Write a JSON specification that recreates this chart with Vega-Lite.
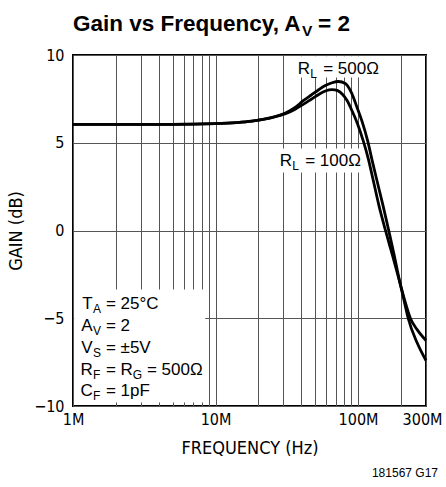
{
  "$schema": "https://vega.github.io/schema/vega-lite/v6.json",
  "width": 353,
  "height": 351,
  "autosize": {"type": "none"},
  "padding": {"left": 73, "top": 55, "right": 20, "bottom": 81},
  "background": "white",
  "config": {
    "view": {"stroke": "black", "strokeWidth": 2},
    "font": "Liberation Sans Narrow, DejaVu Sans Condensed, sans-serif",
    "axis": {
      "gridColor": "#555",
      "gridWidth": 1,
      "gridOpacity": 1,
      "domain": false,
      "ticks": false,
      "labelColor": "black",
      "titleColor": "black",
      "labelFont": "Liberation Sans Narrow, DejaVu Sans Condensed, sans-serif",
      "titleFont": "Liberation Sans Narrow, DejaVu Sans Condensed, sans-serif",
      "labelFontSize": 16,
      "titleFontSize": 18,
      "titleFontWeight": "normal"
    }
  },
  "datasets": {
    "curves": [
      {"series": "RL = 100Ω", "freq": 1, "gain": 6.05},
      {"series": "RL = 100Ω", "freq": 2, "gain": 6.05},
      {"series": "RL = 100Ω", "freq": 4, "gain": 6.05},
      {"series": "RL = 100Ω", "freq": 7, "gain": 6.06},
      {"series": "RL = 100Ω", "freq": 10, "gain": 6.09},
      {"series": "RL = 100Ω", "freq": 14, "gain": 6.15},
      {"series": "RL = 100Ω", "freq": 18, "gain": 6.23},
      {"series": "RL = 100Ω", "freq": 22, "gain": 6.34},
      {"series": "RL = 100Ω", "freq": 26, "gain": 6.47},
      {"series": "RL = 100Ω", "freq": 31, "gain": 6.66},
      {"series": "RL = 100Ω", "freq": 36, "gain": 6.9},
      {"series": "RL = 100Ω", "freq": 41.5, "gain": 7.2},
      {"series": "RL = 100Ω", "freq": 47, "gain": 7.48},
      {"series": "RL = 100Ω", "freq": 53, "gain": 7.75},
      {"series": "RL = 100Ω", "freq": 59, "gain": 7.95},
      {"series": "RL = 100Ω", "freq": 65.8, "gain": 8.03},
      {"series": "RL = 100Ω", "freq": 72, "gain": 7.97},
      {"series": "RL = 100Ω", "freq": 78, "gain": 7.75},
      {"series": "RL = 100Ω", "freq": 83.8, "gain": 7.41},
      {"series": "RL = 100Ω", "freq": 91.3, "gain": 6.78},
      {"series": "RL = 100Ω", "freq": 99, "gain": 6.1},
      {"series": "RL = 100Ω", "freq": 109, "gain": 5.09},
      {"series": "RL = 100Ω", "freq": 118, "gain": 4.1},
      {"series": "RL = 100Ω", "freq": 128, "gain": 2.85},
      {"series": "RL = 100Ω", "freq": 140, "gain": 1.45},
      {"series": "RL = 100Ω", "freq": 156, "gain": 0.0},
      {"series": "RL = 100Ω", "freq": 175, "gain": -1.45},
      {"series": "RL = 100Ω", "freq": 195, "gain": -2.85},
      {"series": "RL = 100Ω", "freq": 213, "gain": -4.0},
      {"series": "RL = 100Ω", "freq": 233, "gain": -5.0},
      {"series": "RL = 100Ω", "freq": 260, "gain": -5.65},
      {"series": "RL = 100Ω", "freq": 300, "gain": -6.27},
      {"series": "RL = 500Ω", "freq": 1, "gain": 6.05},
      {"series": "RL = 500Ω", "freq": 2, "gain": 6.05},
      {"series": "RL = 500Ω", "freq": 4, "gain": 6.05},
      {"series": "RL = 500Ω", "freq": 7, "gain": 6.06},
      {"series": "RL = 500Ω", "freq": 10, "gain": 6.09},
      {"series": "RL = 500Ω", "freq": 14, "gain": 6.15},
      {"series": "RL = 500Ω", "freq": 18, "gain": 6.23},
      {"series": "RL = 500Ω", "freq": 22, "gain": 6.34},
      {"series": "RL = 500Ω", "freq": 26, "gain": 6.48},
      {"series": "RL = 500Ω", "freq": 31, "gain": 6.7},
      {"series": "RL = 500Ω", "freq": 36, "gain": 7.0},
      {"series": "RL = 500Ω", "freq": 41.5, "gain": 7.41},
      {"series": "RL = 500Ω", "freq": 47, "gain": 7.72},
      {"series": "RL = 500Ω", "freq": 53, "gain": 8.02},
      {"series": "RL = 500Ω", "freq": 59, "gain": 8.26},
      {"series": "RL = 500Ω", "freq": 65.8, "gain": 8.42},
      {"series": "RL = 500Ω", "freq": 73, "gain": 8.49},
      {"series": "RL = 500Ω", "freq": 81.5, "gain": 8.38},
      {"series": "RL = 500Ω", "freq": 89.9, "gain": 7.86},
      {"series": "RL = 500Ω", "freq": 98.6, "gain": 7.0},
      {"series": "RL = 500Ω", "freq": 106.9, "gain": 6.2},
      {"series": "RL = 500Ω", "freq": 117, "gain": 5.09},
      {"series": "RL = 500Ω", "freq": 126, "gain": 3.95},
      {"series": "RL = 500Ω", "freq": 135.8, "gain": 2.85},
      {"series": "RL = 500Ω", "freq": 150, "gain": 1.4},
      {"series": "RL = 500Ω", "freq": 164.3, "gain": 0.0},
      {"series": "RL = 500Ω", "freq": 180, "gain": -1.45},
      {"series": "RL = 500Ω", "freq": 195.4, "gain": -2.85},
      {"series": "RL = 500Ω", "freq": 210, "gain": -3.95},
      {"series": "RL = 500Ω", "freq": 224.9, "gain": -5.0},
      {"series": "RL = 500Ω", "freq": 260, "gain": -6.4},
      {"series": "RL = 500Ω", "freq": 300, "gain": -7.41}
    ],
    "boxes": [
      {"freq": 36.3, "freq2": 143.6, "gain": 9.93, "gain2": 8.72},
      {"freq": 27.1, "freq2": 114.6, "gain": 4.67, "gain2": 3.3},
      {"freq": 1.02, "freq2": 8.47, "gain": -3.36, "gain2": -9.8}
    ],
    "notes": [
      {"freq": 38.1, "gain": 8.89, "main": "R", "sub": "L", "rest": "= 500Ω"},
      {"freq": 28.5, "gain": 3.66, "main": "R", "sub": "L", "rest": "= 100Ω"},
      {"freq": 1.138, "gain": -4.47, "main": "T", "sub": "A", "rest": "= 25°C"},
      {"freq": 1.138, "gain": -5.72, "main": "A", "sub": "V", "rest": "= 2"},
      {"freq": 1.138, "gain": -6.97, "main": "V", "sub": "S", "rest": "= ±5V"},
      {"freq": 1.138, "gain": -8.22, "main": "R", "sub": "F", "rest": "= R", "sub2": "G", "rest2": "= 500Ω"},
      {"freq": 1.138, "gain": -9.44, "main": "C", "sub": "F", "rest": "= 1pF"}
    ],
    "titleparts": [
      {"freq": 1, "gain": 11.37, "main": "Gain vs Frequency, A", "sub": "V", "rest": "= 2"}
    ],
    "footnote": [
      {"freq": 300, "gain": -14.05, "note": "181567 G17"}
    ]
  },
  "encoding": {
    "x": {
      "field": "freq",
      "type": "quantitative",
      "scale": {"type": "log", "domain": [1, 300], "nice": false},
      "axis": {
        "title": "FREQUENCY (Hz)",
        "values": [1, 2, 3, 4, 5, 6, 7, 8, 9, 10, 20, 30, 40, 50, 60, 70, 80, 90, 100, 200, 300],
        "labelExpr": "datum.value == 1 ? '1M' : datum.value == 10 ? '10M' : datum.value == 100 ? '100M' : datum.value == 300 ? '300M' : ''",
        "labelOverlap": false,
        "labelFlush": false,
        "labelPadding": 5,
        "labelOffset": {"condition": {"test": "datum.value == 300", "value": -4}, "value": 0},
        "titlePadding": 12,
        "grid": true
      }
    },
    "y": {
      "field": "gain",
      "type": "quantitative",
      "scale": {"domain": [-10, 10], "nice": false, "zero": false},
      "axis": {
        "title": "GAIN (dB)",
        "values": [-10, -5, 0, 5, 10],
        "labelPadding": 9,
        "titlePadding": 8,
        "grid": true
      }
    }
  },
  "layer": [
    {
      "data": {"name": "boxes"},
      "mark": {"type": "rect", "fill": "white", "strokeWidth": 0},
      "encoding": {"x2": {"field": "freq2"}, "y2": {"field": "gain2"}}
    },
    {
      "data": {"name": "curves"},
      "mark": {"type": "line", "interpolate": "monotone", "strokeWidth": 2.8, "color": "black"},
      "encoding": {"detail": {"field": "series", "type": "nominal"}}
    },
    {
      "data": {"name": "notes"},
      "mark": {"type": "text", "align": "right", "baseline": "alphabetic", "dx": 11.7, "font": "Liberation Sans, Arimo, sans-serif", "fontSize": 17, "color": "black"},
      "encoding": {"text": {"field": "main", "type": "nominal"}}
    },
    {
      "data": {"name": "notes"},
      "mark": {"type": "text", "align": "left", "baseline": "alphabetic", "dx": 12, "dy": 4, "font": "Liberation Sans, Arimo, sans-serif", "fontSize": 12, "color": "black"},
      "encoding": {"text": {"field": "sub", "type": "nominal"}}
    },
    {
      "data": {"name": "notes"},
      "mark": {"type": "text", "align": "left", "baseline": "alphabetic", "dx": 24.9, "font": "Liberation Sans, Arimo, sans-serif", "fontSize": 17, "color": "black"},
      "encoding": {"text": {"field": "rest", "type": "nominal"}}
    },
    {
      "data": {"name": "notes"},
      "transform": [{"filter": "datum.sub2"}],
      "mark": {"type": "text", "align": "left", "baseline": "alphabetic", "dx": 51.8, "dy": 4, "font": "Liberation Sans, Arimo, sans-serif", "fontSize": 12, "color": "black"},
      "encoding": {"text": {"field": "sub2", "type": "nominal"}}
    },
    {
      "data": {"name": "notes"},
      "transform": [{"filter": "datum.sub2"}],
      "mark": {"type": "text", "align": "left", "baseline": "alphabetic", "dx": 65.9, "font": "Liberation Sans, Arimo, sans-serif", "fontSize": 17, "color": "black"},
      "encoding": {"text": {"field": "rest2", "type": "nominal"}}
    },
    {
      "data": {"name": "titleparts"},
      "mark": {"type": "text", "align": "left", "baseline": "alphabetic", "font": "Liberation Sans, Arimo, sans-serif", "fontSize": 22.5, "fontWeight": "bold", "color": "black"},
      "encoding": {"text": {"field": "main", "type": "nominal"}}
    },
    {
      "data": {"name": "titleparts"},
      "mark": {"type": "text", "align": "left", "baseline": "alphabetic", "dx": 229, "dy": 5, "font": "Liberation Sans, Arimo, sans-serif", "fontSize": 15.5, "fontWeight": "bold", "color": "black"},
      "encoding": {"text": {"field": "sub", "type": "nominal"}}
    },
    {
      "data": {"name": "titleparts"},
      "mark": {"type": "text", "align": "left", "baseline": "alphabetic", "dx": 245, "font": "Liberation Sans, Arimo, sans-serif", "fontSize": 22.5, "fontWeight": "bold", "color": "black"},
      "encoding": {"text": {"field": "rest", "type": "nominal"}}
    },
    {
      "data": {"name": "footnote"},
      "mark": {"type": "text", "align": "right", "baseline": "alphabetic", "dx": 12, "font": "Liberation Sans, Arimo, sans-serif", "fontSize": 12, "color": "black"},
      "encoding": {"text": {"field": "note", "type": "nominal"}}
    }
  ]
}
